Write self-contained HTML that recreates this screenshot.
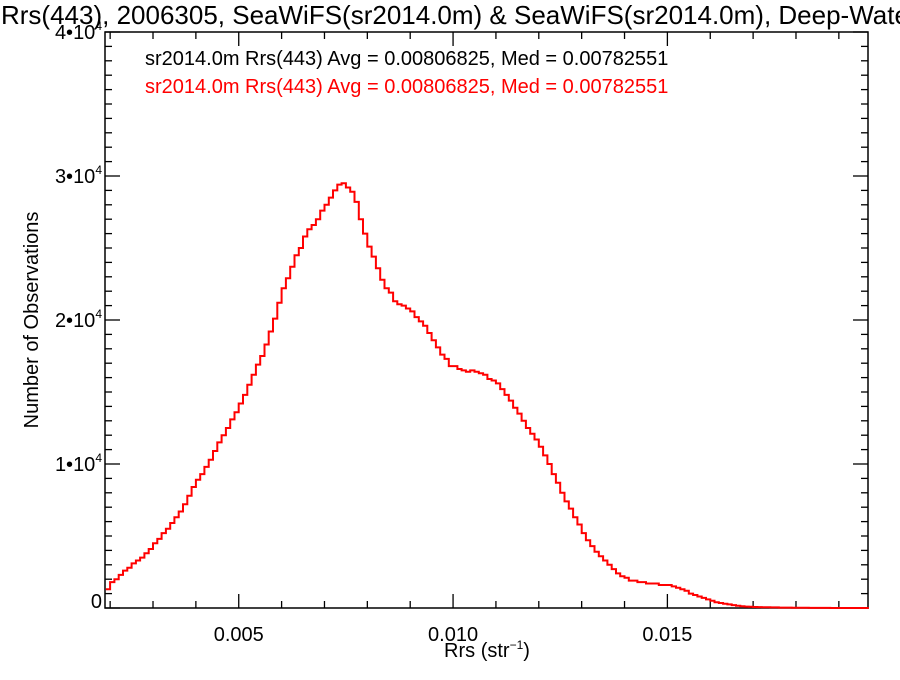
<!DOCTYPE html>
<html><head><meta charset="utf-8"><style>
body{margin:0;background:#fff;width:900px;height:675px;overflow:hidden}
svg{font-family:"Liberation Sans",Arial,sans-serif}
</style></head><body>
<svg id="chart" width="900" height="675" viewBox="0 0 900 675" xmlns="http://www.w3.org/2000/svg">
<text x="1" y="24" font-size="26" fill="#000">Rrs(443), 2006305, SeaWiFS(sr2014.0m) &amp; SeaWiFS(sr2014.0m), Deep-Water</text>
<rect x="105" y="32" width="763" height="576" fill="none" stroke="#000" stroke-width="1.5"/>
<g id="axes"></g>
<text x="145" y="65" font-size="20" fill="#000">sr2014.0m Rrs(443) Avg = 0.00806825, Med = 0.00782551</text>
<text x="145" y="93" font-size="20" fill="#ff0000">sr2014.0m Rrs(443) Avg = 0.00806825, Med = 0.00782551</text>
<text x="487" y="657" font-size="20" text-anchor="middle">Rrs (str<tspan font-size="12" dy="-8">−1</tspan><tspan dy="8">)</tspan></text>
<text transform="translate(38,320) rotate(-90)" font-size="20" text-anchor="middle">Number of Observations</text>
<path id="hist" fill="none" stroke="#ff0000" stroke-width="2"/>
</svg>
<script>
const binStart = 0.0019;
const binWidth = 0.0001;
const counts = [1.3,1.8,2.0,2.3,2.6,2.8,3.1,3.3,3.5,3.8,4.1,
4.5,4.8,5.2,5.5,5.9,6.3,6.7,7.2,7.8,8.4,
8.9,9.3,9.8,10.3,10.9,11.5,12.0,12.5,13.1,13.6,
14.2,14.8,15.5,16.2,16.9,17.5,18.3,19.2,20.1,21.2,
22.2,22.9,23.7,24.5,25.0,25.8,26.3,26.6,27.0,27.6,
28.0,28.5,29.0,29.4,29.5,29.2,28.9,28.2,27.0,26.0,
25.1,24.4,23.6,22.8,22.2,21.9,21.3,21.1,21.0,20.8,
20.6,20.2,19.9,19.6,19.1,18.6,18.1,17.6,17.3,16.8,
16.8,16.6,16.5,16.4,16.5,16.4,16.3,16.2,15.9,15.8,
15.6,15.2,14.8,14.4,13.9,13.5,13.0,12.5,12.1,11.7,
11.2,10.6,10.0,9.3,8.7,8.0,7.4,6.9,6.3,5.8,
5.2,4.7,4.3,3.9,3.6,3.3,3.0,2.7,2.4,2.2,
2.1,1.9,1.9,1.8,1.8,1.7,1.7,1.7,1.6,1.6,
1.6,1.5,1.4,1.3,1.2,1.0,0.9,0.8,0.7,0.6,
0.5,0.4,0.35,0.3,0.25,0.2,0.15,0.12,0.1,0.08,
0.07,0.06,0.05,0.05,0.04,0.04,0.03,0.03,0.03,0.02,
0.02,0.02,0.02,0.01,0.01,0.01,0.01,0.01,0,0,0,0,0,0,0,0,0,0];
const xTickValues = [0.005,0.010,0.015];
const xTickLabels = ["0.005","0.010","0.015"];
const yTickValues = [0,10000,20000,30000,40000];
const yTickMant = ["0","1","2","3","4"];

const X0=105,X1=868,Y0=608,Y1=32;
const xMin=0.00188,xMax=0.01968,yMax=40000;
function xs(v){return X0+(v-xMin)/(xMax-xMin)*(X1-X0);}
function ys(v){return Y0-v/yMax*(Y0-Y1);}
const NS="http://www.w3.org/2000/svg";
const axes=document.getElementById('axes');
function line(x1,y1,x2,y2,name){const l=document.createElementNS(NS,'line');
l.setAttribute('x1',x1);l.setAttribute('y1',y1);l.setAttribute('x2',x2);l.setAttribute('y2',y2);
l.setAttribute('stroke','#000');l.setAttribute('stroke-width','1.3');


axes.appendChild(l);}
for(let k=2;k<=19;k++){const v=k*0.001;if(v<xMin||v>xMax)continue;const x=xs(v);const major=(k%5===0);const len=major?14:7;
line(x,Y0,x,Y0-len,'x-tick');line(x,Y1,x,Y1+len,'x-tick-top');}
xTickValues.forEach((v,i)=>{const t=document.createElementNS(NS,'text');
t.setAttribute('x',xs(v));t.setAttribute('y',Y0+33);t.setAttribute('font-size','20');t.setAttribute('text-anchor','middle');
t.textContent=xTickLabels[i];


axes.appendChild(t);});
for(let v=0;v<=yMax;v+=1000){const y=ys(v);const major=(v%10000===0);const len=major?15:7;
line(X0,y,X0+len,y,'y-tick');line(X1,y,X1-len,y,'y-tick-right');}
yTickValues.forEach((v,i)=>{const t=document.createElementNS(NS,'text');
t.setAttribute('x',X0-3);t.setAttribute('y',ys(v)+(v===0?0:7));t.setAttribute('font-size','20');t.setAttribute('text-anchor','end');
if(v===0){t.textContent='0';}else{t.innerHTML=yTickMant[i]+'•10<tspan font-size="12" dy="-9">4</tspan>';}


axes.appendChild(t);});
let d='';
counts.forEach((c,i)=>{const xa=Math.max(X0,xs(binStart+i*binWidth)),xb=Math.min(X1,xs(binStart+(i+1)*binWidth));const y=ys(c*1000);
d+=(i===0?'M':'L')+xa.toFixed(1)+','+y.toFixed(1)+'L'+xb.toFixed(1)+','+y.toFixed(1);});
document.getElementById('hist').setAttribute('d',d);
</script>
</body></html>
